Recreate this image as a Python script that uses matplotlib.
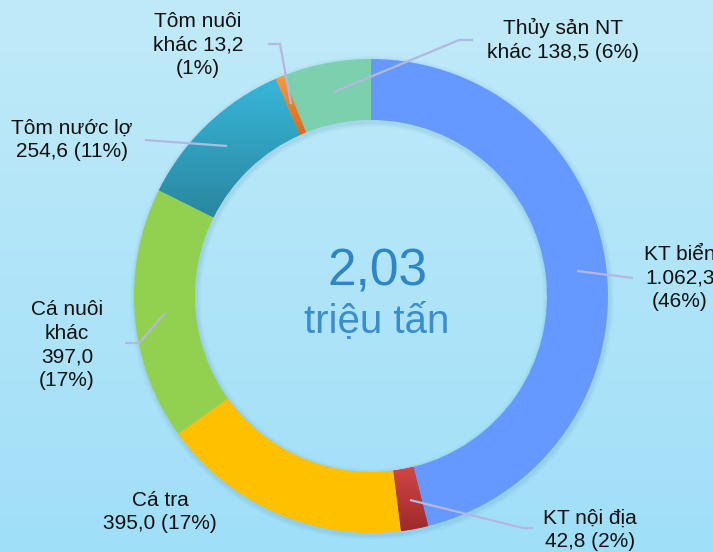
"""
Sản lượng thủy sản - biểu đồ vành khuyên
"""

import matplotlib.pyplot as plt
import matplotlib
import numpy as np
from matplotlib.patches import Wedge

matplotlib.rcParams['font.family'] = ['Liberation Sans', 'DejaVu Sans']

# dữ liệu (nghìn tấn), theo chiều kim đồng hồ từ đỉnh
LABELS = ['KT biển', 'KT nội địa', 'Cá tra', 'Cá nuôi khác',
          'Tôm nước lợ', 'Tôm nuôi khác', 'Thủy sản NT khác']
VALUES = [1062.3, 42.8, 395.0, 397.0, 254.6, 13.2, 138.5]
LABEL_TEXTS = ['KT biển\n1.062,3\n(46%)', 'KT nội địa\n42,8 (2%)',
               'Cá tra\n395,0 (17%)', 'Cá nuôi\nkhác\n397,0\n(17%)',
               'Tôm nước lợ\n254,6 (11%)', 'Tôm nuôi\nkhác 13,2\n(1%)',
               'Thủy sản NT\nkhác 138,5 (6%)']
COLORS = ['#6699FF', '#C63E3E', '#FFC000', '#92D050',
          '#35AFD3', '#F7923A', '#7DD0AE']
CENTER_TOP = '2,03'
CENTER_BOTTOM = 'triệu tấn'

W, H = 713, 552
CX, CY = 371, 296
R_OUT, RING = 237, 61

# gradient cho một số phần (màu trên -> màu dưới)
GRADIENTS = {1: ('#D24646', '#9E2A2A'),
             4: ('#38B6DA', '#2A879F'),
             5: ('#F99A40', '#DC6A1C')}

# vị trí nhãn (pixel) và đường dẫn
LABEL_POS = [(680, 278), (590, 530), (160, 512), (67, 345),
             (72, 140), (198, 45), (563, 40)]
LEADERS = [[(577, 271), (633, 278)],
           [(410, 500), (523, 528), (533, 528)],
           None,
           [(165, 313), (139, 343), (125, 343)],
           [(227, 146), (145, 140)],
           [(291, 104), (280, 44), (268, 44)],
           [(334, 92), (459, 40), (473, 40)]]


def y(v):
    return H - v


def hex_rgb(c):
    return np.array(matplotlib.colors.to_rgb(c))


fig = plt.figure(figsize=(W / 100, H / 100), dpi=100)
ax = fig.add_axes([0, 0, 1, 1])

# nền gradient xanh nhạt
top, bot = hex_rgb('#C0EAF9'), hex_rgb('#A0DFF8')
t = np.linspace(0, 1, 200)[:, None, None]
bg = top * (1 - t) + bot * t
bg = np.repeat(bg, 2, axis=1)
ax.imshow(bg, extent=[0, W, 0, H], aspect='auto', zorder=0)

# bóng mờ quanh vành
for k, a in [(5, 0.03), (3.5, 0.04), (2, 0.06)]:
    sh = Wedge((CX + 1, y(CY + 2)), R_OUT + k, 0, 360, width=RING + 2 * k,
               facecolor='#2A6A90', edgecolor='none', alpha=a, zorder=1)
    ax.add_patch(sh)

wedges, _ = ax.pie(VALUES, colors=COLORS, startangle=90, counterclock=False,
                   center=(CX, y(CY)), radius=R_OUT, frame=True,
                   wedgeprops=dict(width=RING, edgecolor='none', zorder=2))

for i, (c1, c2) in GRADIENTS.items():
    w = wedges[i]
    ext = w.get_path().get_extents(w.get_patch_transform())
    g = np.linspace(0, 1, 100)[:, None, None]
    img = hex_rgb(c1) * (1 - g) + hex_rgb(c2) * g
    img = np.repeat(img, 2, axis=1)
    im = ax.imshow(img, extent=[ext.x0, ext.x1, ext.y0, ext.y1],
                   aspect='auto', zorder=3)
    im.set_clip_path(w)

# đường dẫn nhãn
for pts in LEADERS:
    if pts is None:
        continue
    xs = [p[0] for p in pts]
    ys = [y(p[1]) for p in pts]
    ax.plot(xs, ys, color='#B3B8DE', lw=1.6, zorder=4, solid_capstyle='butt')

for txt, (lx, ly) in zip(LABEL_TEXTS, LABEL_POS):
    ax.text(lx, y(ly), txt, ha='center', va='center', fontsize=15,
            color='#111111', linespacing=1.33, zorder=5)

ax.text(377, y(272), CENTER_TOP, ha='center', va='center', fontsize=37,
        color='#2E86C8', zorder=5)
ax.text(377, y(322), CENTER_BOTTOM, ha='center', va='center', fontsize=29,
        color='#3A8DD0', zorder=5)

ax.set_xlim(0, W)
ax.set_ylim(0, H)
ax.set_aspect('auto')
ax.axis('off')

plt.savefig('out.png', dpi=100)
